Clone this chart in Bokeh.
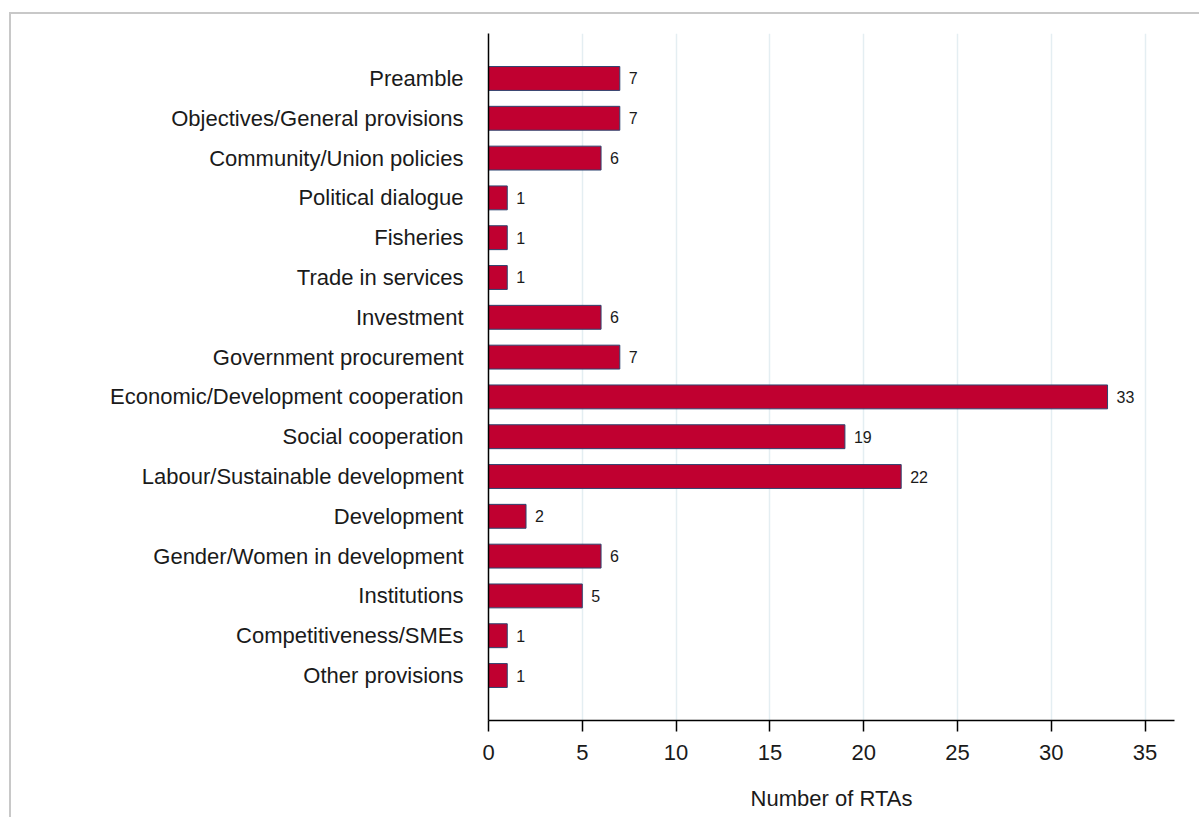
from bokeh.plotting import figure
from bokeh.models import FactorRange, Range1d, FixedTicker, ColumnDataSource
from bokeh.core.properties import value
from bokeh.embed import file_html
from bokeh.resources import INLINE

categories = [
    "Preamble",
    "Objectives/General provisions",
    "Community/Union policies",
    "Political dialogue",
    "Fisheries",
    "Trade in services",
    "Investment",
    "Government procurement",
    "Economic/Development cooperation",
    "Social cooperation",
    "Labour/Sustainable development",
    "Development",
    "Gender/Women in development",
    "Institutions",
    "Competitiveness/SMEs",
    "Other provisions",
]
counts = [7, 7, 6, 1, 1, 1, 6, 7, 33, 19, 22, 2, 6, 5, 1, 1]
x_ticks = [0, 5, 10, 15, 20, 25, 30, 35]
x_title = "Number of RTAs"

FONT = "Liberation Sans"

src = ColumnDataSource(dict(cat=categories, n=counts, lab=[str(v) for v in counts]))

p = figure(
    width=1190, height=805,
    y_range=FactorRange(factors=list(reversed(categories)), range_padding=0.63,
                        range_padding_units="absolute"),
    x_range=Range1d(0, 36.57),
    output_backend="svg", toolbar_location=None,
    min_border_left=477, min_border_right=27, min_border_top=19, min_border_bottom=99,
)
p.margin = (12, 0, 0, 9)
p.styles = {"border-top": "2px solid #c8c8c8", "border-left": "2px solid #c8c8c8"}

p.hbar(y="cat", right="n", left=0, height=0.6, source=src,
       fill_color="#c00030", line_color="#2e4470", line_width=1)

p.text(x="n", y="cat", text="lab", source=src, x_offset=9,
       text_baseline="middle", text_align="left",
       text_font=value(FONT), text_font_size="16px", text_color="#1a1a1a")

p.outline_line_color = None
p.background_fill_color = "white"
p.border_fill_color = "white"

p.ygrid.grid_line_color = None
p.xgrid.grid_line_color = "#e4eef2"
p.xgrid.grid_line_width = 1.5
p.xgrid.ticker = FixedTicker(ticks=x_ticks)

xa = p.xaxis[0]
xa.ticker = FixedTicker(ticks=x_ticks)
xa.axis_line_color = "black"
xa.axis_line_width = 1.5
xa.major_tick_line_color = "black"
xa.major_tick_line_width = 1.5
xa.major_tick_out = 11
xa.major_tick_in = 0
xa.minor_tick_line_color = None
xa.major_label_text_font = FONT
xa.major_label_text_font_size = "22px"
xa.major_label_text_color = "#1a1a1a"
xa.major_label_standoff = 13
xa.axis_label = x_title
xa.axis_label_text_font = FONT
xa.axis_label_text_font_size = "22px"
xa.axis_label_text_font_style = "normal"
xa.axis_label_text_color = "#1a1a1a"
xa.axis_label_standoff = 23

ya = p.yaxis[0]
ya.axis_line_color = "black"
ya.axis_line_width = 1.5
ya.major_tick_line_color = None
ya.major_tick_out = 0
ya.major_tick_in = 0
ya.minor_tick_line_color = None
ya.major_label_text_font = FONT
ya.major_label_text_font_size = "22px"
ya.major_label_text_color = "#1a1a1a"
ya.major_label_standoff = 25

open("out.html", "w").write(file_html(p, INLINE))
